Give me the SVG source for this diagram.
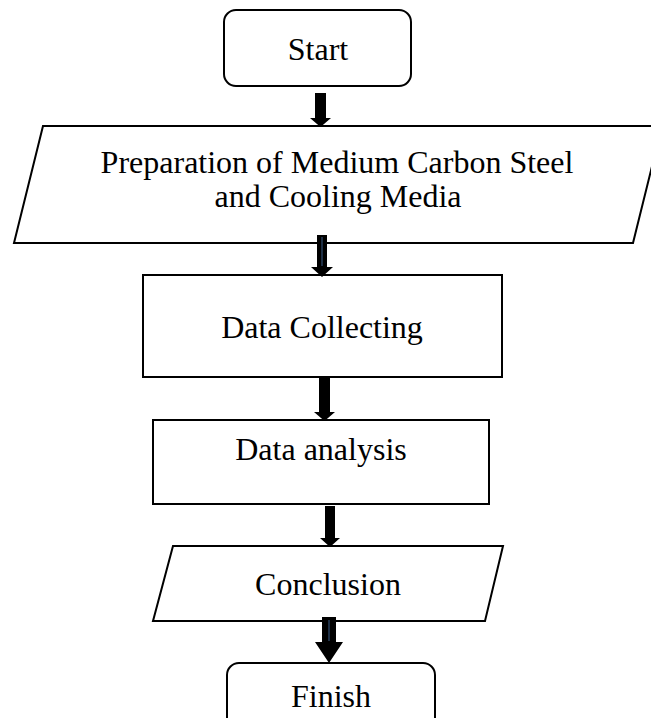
<svg xmlns="http://www.w3.org/2000/svg" width="651" height="718" viewBox="0 0 651 718">
  <style>
    .shape { fill: #ffffff; stroke: #000000; stroke-width: 2; }
    .label { font-family: "Liberation Serif", "Times New Roman", serif; font-size: 32px; fill: #000000; text-anchor: middle; }
    .arrow { fill: #000000; stroke: none; }
    .inner { stroke: #3c5f8a; stroke-width: 1; fill: none; }
  </style>
  <defs>
    <clipPath id="clipPrep">
      <rect x="0" y="126" width="651" height="92"/>
    </clipPath>
  </defs>
  <rect width="651" height="718" fill="#ffffff"/>

  <g id="node-start">
    <rect class="shape" x="224" y="10" width="187" height="76" rx="12" ry="12"/>
    <text class="label" x="318" y="60">Start</text>
  </g>

  <g id="node-preparation">
    <polygon class="shape" points="43,126 662,126 633,243 14,243"/>
    <g clip-path="url(#clipPrep)">
      <text class="label" x="337" y="173">Preparation of Medium Carbon Steel</text>
      <text class="label" x="338" y="207">and Cooling Media</text>
    </g>
  </g>

  <g id="node-data-collecting">
    <rect class="shape" x="143" y="275" width="359" height="102"/>
    <text class="label" x="322" y="338">Data Collecting</text>
  </g>

  <g id="node-data-analysis">
    <rect class="shape" x="153" y="420" width="336" height="84"/>
    <text class="label" x="321" y="460">Data analysis</text>
  </g>

  <g id="node-conclusion">
    <polygon class="shape" points="173,546 503,546 485,621 153,621"/>
    <text class="label" x="328" y="595">Conclusion</text>
  </g>

  <g id="node-finish">
    <rect class="shape" x="227" y="663" width="208" height="70" rx="12" ry="12"/>
    <text class="label" x="331" y="707">Finish</text>
  </g>

  <g id="connectors">
    <polygon class="arrow" points="315,93 326,93 326,118 331,118 320.5,127 310,118 315,118"/>
    <polygon class="arrow" points="317,235 327,235 327,267 333,267 322,277 311,267 317,267"/>
    <line class="inner" x1="322" y1="237" x2="322" y2="266"/>
    <polygon class="arrow" points="319,378 330,378 330,412 335,412 324.5,421 314,412 319,412"/>
    <polygon class="arrow" points="325,506 335,506 335,538 340,538 330,547 320,538 325,538"/>
    <polygon class="arrow" points="322,617 336,617 336,642 343,642 329,663 315,642 322,642"/>
    <line class="inner" x1="329" y1="620" x2="329" y2="641"/>
  </g>
</svg>
